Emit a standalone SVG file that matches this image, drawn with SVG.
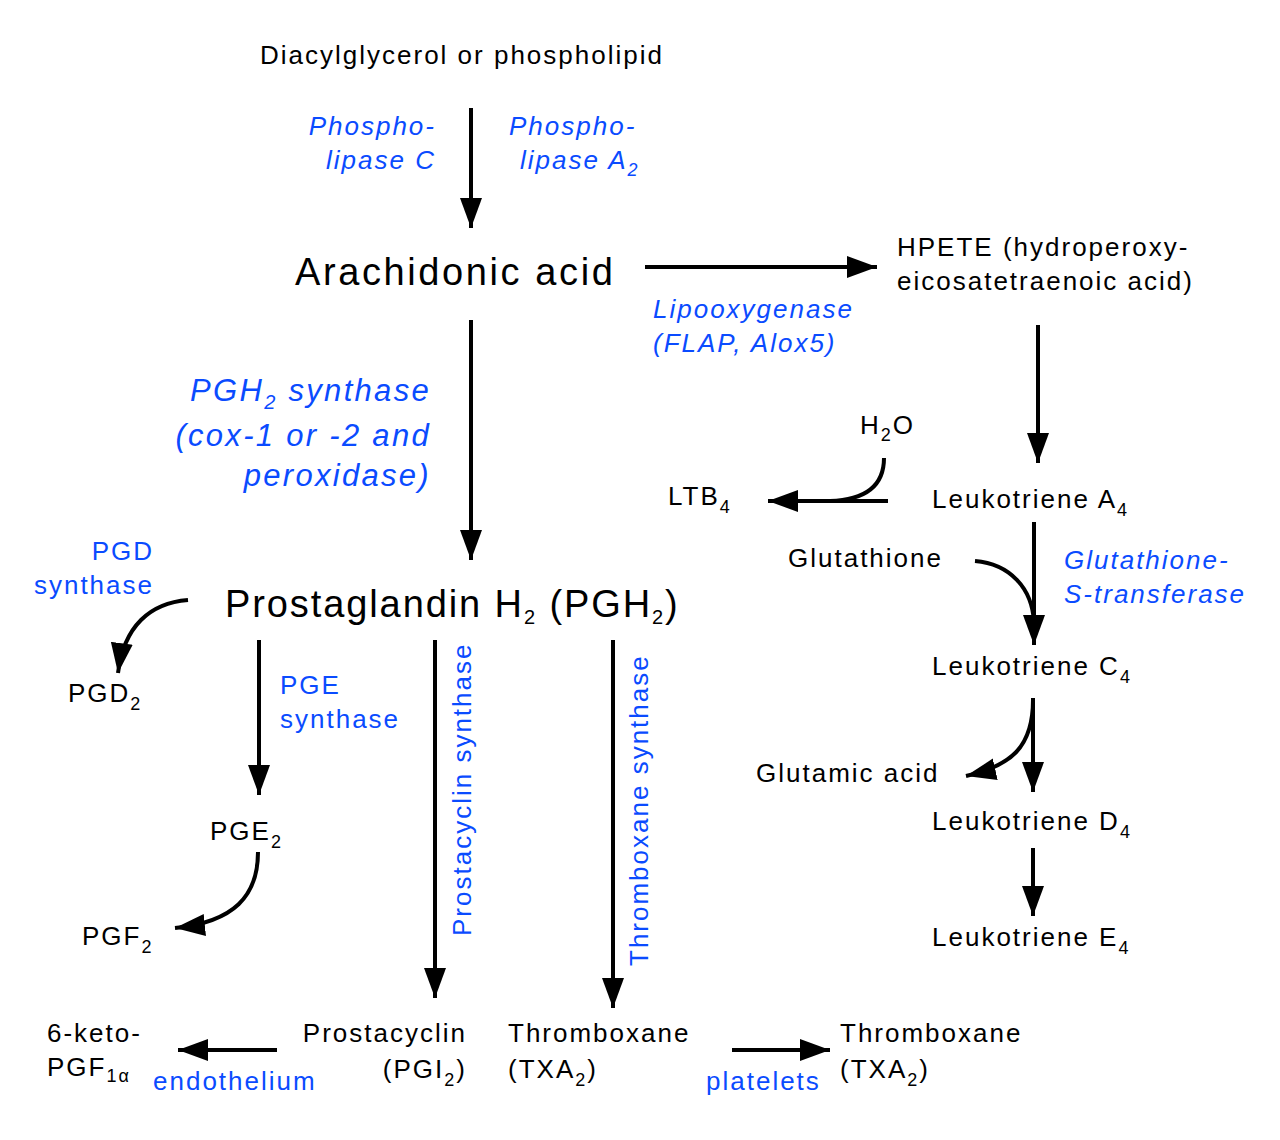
<svg xmlns="http://www.w3.org/2000/svg" width="1280" height="1140" viewBox="0 0 1280 1140">
<defs>
<style>
text{font-family:"Liberation Sans",Arial,sans-serif;font-size:26px;letter-spacing:2px;fill:#000}
.b{fill:#0a4bff}
.i{font-style:italic}
.big{font-size:38px;letter-spacing:2.6px}
.pg{font-size:31px;letter-spacing:2.3px}
.c{fill:none;stroke:#000;stroke-width:4}
</style>
<marker id="ah" markerUnits="userSpaceOnUse" markerWidth="32" markerHeight="24" refX="30" refY="11" orient="auto">
<path d="M0,0 L30,11 L0,22 Z" fill="#000"/>
</marker>
</defs>
<rect width="1280" height="1140" fill="#fff"/>
<g id="connectors">
<line class="c" x1="471" y1="108" x2="471" y2="228" marker-end="url(#ah)"/>
<line class="c" x1="645" y1="267" x2="877" y2="267" marker-end="url(#ah)"/>
<line class="c" x1="471" y1="320" x2="471" y2="560" marker-end="url(#ah)"/>
<line class="c" x1="1038" y1="325" x2="1038" y2="463" marker-end="url(#ah)"/>
<line class="c" x1="888" y1="501" x2="768" y2="501" marker-end="url(#ah)"/>
<path class="c" d="M884,458 C884,488 862,500 830,501"/>
<line class="c" x1="1034" y1="522" x2="1034" y2="645" marker-end="url(#ah)"/>
<path class="c" d="M975,561 C1010,564 1032,588 1034,622"/>
<line class="c" x1="1033" y1="698" x2="1033" y2="792" marker-end="url(#ah)"/>
<path class="c" d="M1033,700 C1033,748 1010,766 966,776" marker-end="url(#ah)"/>
<line class="c" x1="1033" y1="848" x2="1033" y2="916" marker-end="url(#ah)"/>
<path class="c" d="M188,600 C150,603 124,626 118,673" marker-end="url(#ah)"/>
<line class="c" x1="259" y1="640" x2="259" y2="795" marker-end="url(#ah)"/>
<path class="c" d="M258,852 C258,896 234,922 175,928" marker-end="url(#ah)"/>
<line class="c" x1="435" y1="640" x2="435" y2="998" marker-end="url(#ah)"/>
<line class="c" x1="613" y1="640" x2="613" y2="1008" marker-end="url(#ah)"/>
<line class="c" x1="277" y1="1050" x2="178" y2="1050" marker-end="url(#ah)"/>
<line class="c" x1="732" y1="1050" x2="830" y2="1050" marker-end="url(#ah)"/>
</g>
<g id="n-dag"><text x="260" y="64">Diacylglycerol or phospholipid</text></g>
<g id="l-plc"><text class="b i" text-anchor="end" x="436" y="135">Phospho-</text><text class="b i" text-anchor="end" x="436" y="169">lipase C</text></g>
<g id="l-pla2"><text class="b i" x="509" y="135">Phospho-</text><text class="b i" x="520" y="169">lipase A<tspan font-size="18" dy="7">2</tspan></text></g>
<g id="n-aa"><text class="big" x="295" y="285">Arachidonic acid</text></g>
<g id="n-hpete"><text x="897" y="256">HPETE (hydroperoxy-</text><text x="897" y="290">eicosatetraenoic acid)</text></g>
<g id="l-lox"><text class="b i" x="653" y="318">Lipooxygenase</text><text class="b i" x="653" y="352">(FLAP, Alox5)</text></g>
<g id="l-pghs"><text class="b i pg" text-anchor="end" x="431" y="401">PGH<tspan font-size="20" dy="8">2</tspan><tspan dy="-8"> synthase</tspan></text><text class="b i pg" text-anchor="end" x="431" y="446">(cox-1 or -2 and</text><text class="b i pg" text-anchor="end" x="431" y="486">peroxidase)</text></g>
<g id="n-h2o"><text x="860" y="434">H<tspan font-size="18" dy="7">2</tspan><tspan dy="-7">O</tspan></text></g>
<g id="n-ltb4"><text x="668" y="505">LTB<tspan font-size="18" dy="8">4</tspan></text></g>
<g id="n-lta4"><text x="932" y="508">Leukotriene A<tspan font-size="18" dy="8">4</tspan></text></g>
<g id="n-glut"><text x="788" y="567">Glutathione</text></g>
<g id="l-gst"><text class="b i" x="1064" y="569">Glutathione-</text><text class="b i" x="1064" y="603">S-transferase</text></g>
<g id="n-ltc4"><text x="932" y="675">Leukotriene C<tspan font-size="18" dy="8">4</tspan></text></g>
<g id="n-glu"><text x="756" y="782">Glutamic acid</text></g>
<g id="n-ltd4"><text x="932" y="830">Leukotriene D<tspan font-size="18" dy="8">4</tspan></text></g>
<g id="n-lte4"><text x="932" y="946">Leukotriene E<tspan font-size="18" dy="8">4</tspan></text></g>
<g id="n-pgh2"><text class="big" x="225" y="617" style="letter-spacing:1.9px">Prostaglandin H<tspan font-size="20" dy="7">2</tspan><tspan dy="-7"> (PGH</tspan><tspan font-size="20" dy="7">2</tspan><tspan dy="-7">)</tspan></text></g>
<g id="l-pgds"><text class="b" text-anchor="end" x="154" y="560">PGD</text><text class="b" text-anchor="end" x="154" y="594">synthase</text></g>
<g id="n-pgd2"><text x="68" y="702">PGD<tspan font-size="18" dy="8">2</tspan></text></g>
<g id="l-pges"><text class="b" x="280" y="694">PGE</text><text class="b" x="280" y="728">synthase</text></g>
<g id="n-pge2"><text x="210" y="840">PGE<tspan font-size="18" dy="8">2</tspan></text></g>
<g id="n-pgf2"><text x="82" y="945">PGF<tspan font-size="18" dy="8">2</tspan></text></g>
<g id="l-pcs"><text class="b" transform="translate(471,936) rotate(-90)">Prostacyclin synthase</text></g>
<g id="l-txs"><text class="b" transform="translate(648,966) rotate(-90)">Thromboxane synthase</text></g>
<g id="n-pgi2"><text text-anchor="end" x="467" y="1042">Prostacyclin</text><text text-anchor="end" x="467" y="1078">(PGI<tspan font-size="18" dy="8">2</tspan><tspan dy="-8">)</tspan></text></g>
<g id="n-keto"><text x="47" y="1042">6-keto-</text><text x="47" y="1076">PGF<tspan font-size="18" dy="6">1α</tspan></text></g>
<g id="l-endo"><text class="b" x="153" y="1090">endothelium</text></g>
<g id="n-txa2a"><text x="508" y="1042">Thromboxane</text><text x="508" y="1078">(TXA<tspan font-size="18" dy="8">2</tspan><tspan dy="-8">)</tspan></text></g>
<g id="l-plt"><text class="b" x="706" y="1090">platelets</text></g>
<g id="n-txa2b"><text x="840" y="1042">Thromboxane</text><text x="840" y="1078">(TXA<tspan font-size="18" dy="8">2</tspan><tspan dy="-8">)</tspan></text></g>
</svg>
